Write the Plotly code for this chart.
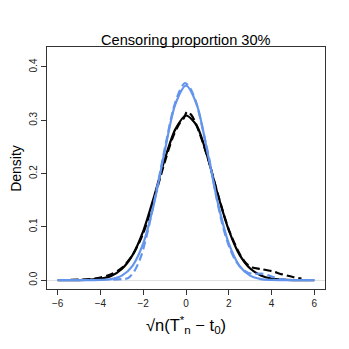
import plotly.graph_objects as go

# values
x_black_solid = [-6, -5.5, -5, -4.5, -4, -3.5, -3, -2.5, -2, -1.5, -1, -0.5, 0,
                 0.5, 1, 1.5, 2, 2.5, 3, 3.5, 4, 4.5, 5, 5.5, 6]
y_black_solid = [0.0, 0.0001, 0.0003, 0.001, 0.003, 0.008, 0.021, 0.047, 0.092, 0.156, 0.226, 0.283, 0.309,
                 0.29, 0.232, 0.159, 0.094, 0.048, 0.022, 0.009, 0.003, 0.001, 0.0003, 0.0001, 0.0]

x_black_dash = [-5.4, -5, -4.5, -4, -3.5, -3, -2.5, -2, -1.5, -1, -0.6, -0.3, -0.1, 0.05, 0.25,
                0.5, 1, 1.5, 2, 2.5, 2.8, 3.1, 3.5, 4, 4.5, 5, 5.4]
y_black_dash = [0.0005, 0.001, 0.002, 0.005, 0.011, 0.023, 0.047, 0.088, 0.151, 0.221, 0.27, 0.294, 0.304, 0.316, 0.31,
                0.29, 0.232, 0.16, 0.095, 0.05, 0.032, 0.024, 0.021, 0.017, 0.011, 0.006, 0.003]

x_blue_solid = [-6, -5.5, -5, -4.5, -4, -3.5, -3, -2.5, -2, -1.5, -1, -0.5, 0,
                0.5, 1, 1.5, 2, 2.5, 3, 3.5, 4, 4.5, 5, 5.5, 6]
y_blue_solid = [0.0, 0.0, 0.0, 0.0001, 0.0005, 0.002, 0.0085, 0.027, 0.069, 0.143, 0.241, 0.33, 0.365,
                0.33, 0.241, 0.143, 0.069, 0.027, 0.0085, 0.002, 0.0005, 0.0001, 0.0, 0.0, 0.0]

x_blue_dash = [-3.4, -3.0, -2.7, -2.4, -2.1, -1.8, -1.5, -1.2, -0.9, -0.6, -0.3, -0.05, 0.2,
               0.5, 0.8, 1.1, 1.4, 1.7, 2.0, 2.3, 2.6, 2.9, 3.2, 3.6, 4.0, 4.4, 4.8]
y_blue_dash = [0.001, 0.002, 0.004, 0.018, 0.045, 0.09, 0.145, 0.205, 0.265, 0.32, 0.355, 0.37, 0.36,
               0.33, 0.28, 0.225, 0.16, 0.105, 0.065, 0.038, 0.022, 0.014, 0.012, 0.012, 0.007, 0.002, 0.0005]

x_ticks = [-6, -4, -2, 0, 2, 4, 6]
x_tick_labels = ["\u22126", "\u22124", "\u22122", "0", "2", "4", "6"]
y_ticks = [0.0, 0.1, 0.2, 0.3, 0.4]
y_tick_labels = ["0.0", "0.1", "0.2", "0.3", "0.4"]

blue = "#6495ED"
dash = "8px,4px"

curves = [
    (x_black_solid, y_black_solid, "black", "solid"),
    (x_black_dash, y_black_dash, "black", dash),
    (x_blue_solid, y_blue_solid, blue, "solid"),
    (x_blue_dash, y_blue_dash, blue, dash),
]

fig = go.Figure()
for xs, ys, color, style in curves:
    fig.add_trace(go.Scatter(
        x=xs, y=ys, mode="lines",
        line=dict(color=color, width=2.2, dash=style, shape="spline", smoothing=0.8),
        hoverinfo="skip",
    ))

font = "Liberation Sans, Arial, Helvetica, sans-serif"

# page body adds 8px, so margins are shifted to keep the plot box at 47..325 / 47..289
fig.update_layout(
    width=349, height=349,
    margin=dict(l=39, r=32, t=39, b=68, autoexpand=False),
    paper_bgcolor="white", plot_bgcolor="white",
    showlegend=False,
    font=dict(family=font, color="black"),
)

fig.update_xaxes(
    range=[-6.5, 6.5], tickvals=x_ticks, ticktext=x_tick_labels,
    ticks="outside", ticklen=5, tickcolor="#333", tickfont=dict(size=10, color="#222"),
    showline=True, linecolor="#333", linewidth=1, mirror=True,
    showgrid=False, zeroline=False,
)
fig.update_yaxes(
    range=[-0.0165, 0.4375], tickvals=y_ticks, ticktext=y_tick_labels,
    ticks="outside", ticklen=5, tickcolor="#333", tickangle=-90,
    tickfont=dict(size=10, color="#222"),
    showline=True, linecolor="#333", linewidth=1, mirror=True,
    showgrid=False, zeroline=True, zerolinecolor="#e0e0e0", zerolinewidth=1,
)

fig.add_annotation(
    text="Censoring proportion 30%", xref="paper", yref="paper",
    x=0.5, y=1.029, xanchor="center", yanchor="middle",
    showarrow=False, font=dict(size=14.6),
)
fig.add_annotation(
    text="\u221an(T<sup>*</sup><sub>n</sub> \u2212 t<sub>0</sub>)", xref="paper", yref="paper",
    x=0.5, y=-0.149, xanchor="center", yanchor="middle",
    showarrow=False, font=dict(size=16.5),
)
fig.add_annotation(
    text="Density", xref="paper", yref="paper",
    x=-0.112, y=0.5, xanchor="center", yanchor="middle", textangle=-90,
    showarrow=False, font=dict(size=14),
)

fig.write_html("out.html")
